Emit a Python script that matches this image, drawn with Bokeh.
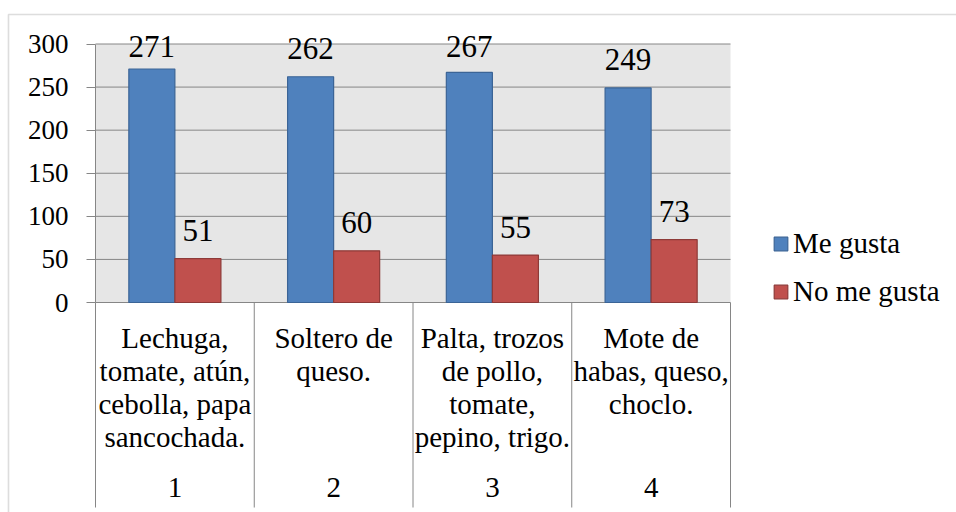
from bokeh.plotting import figure
from bokeh.models import (Range1d, FixedTicker, ColumnDataSource, Legend,
                          LegendItem, BoxAnnotation)
from bokeh.transform import dodge
from bokeh.core.properties import value
from bokeh.embed import file_html
from bokeh.resources import INLINE

# --- data -------------------------------------------------------------
categorias = ["1", "2", "3", "4"]
platos = [
    ["Lechuga,", "tomate, atún,", "cebolla, papa", "sancochada."],
    ["Soltero de", "queso."],
    ["Palta, trozos", "de pollo,", "tomate,", "pepino, trigo."],
    ["Mote de", "habas, queso,", "choclo."],
]
me_gusta = [271, 262, 267, 249]
no_me_gusta = [51, 60, 55, 73]
y_ticks = [0, 50, 100, 150, 200, 250, 300]
series = ["Me gusta", "No me gusta"]

# --- styling / layout constants ----------------------------------------
FONT = "Times New Roman"
BLUE, BLUE_EDGE = "#4F81BD", "#3B6496"
RED, RED_EDGE = "#C0504D", "#8E3A38"
GRID = "#868686"
PLOT_BG = "#E6E6E6"

W, H = 956, 512
AXIS_PX = 95              # pixel column of the value axis
PX_PER_CAT = 158.75       # width of one category slot
PX_PER_UNIT = 258.5 / 300 # vertical scale
ZERO_PX = 302             # pixel row of the zero line
BAR_W = 0.29
LINE_H = 33               # spacing of the category text lines

n = len(categorias)
x_start = 0.5 - AXIS_PX / PX_PER_CAT
x_end = 0.5 + (W - AXIS_PX) / PX_PER_CAT
y_end = ZERO_PX / PX_PER_UNIT
y_start = -(H - ZERO_PX) / PX_PER_UNIT
y_sep_bottom = -(507 - ZERO_PX) / PX_PER_UNIT

p = figure(width=W, height=H,
           x_range=Range1d(x_start, x_end), y_range=Range1d(y_start, y_end),
           output_backend="svg", toolbar_location=None,
           x_axis_location=None,
           min_border_left=0, min_border_right=0,
           min_border_top=0, min_border_bottom=0)
p.grid.visible = False
p.outline_line_color = None

# value axis, pinned to the left edge of the category area
ax = p.yaxis[0]
ax.fixed_location = 0.5
ax.ticker = FixedTicker(ticks=y_ticks)
ax.bounds = (y_ticks[0], y_ticks[-1])
ax.major_tick_out = 9
ax.major_tick_in = 0
ax.minor_tick_line_color = None
ax.major_label_standoff = 18
ax.axis_line_color = GRID
ax.major_tick_line_color = GRID
ax.major_label_text_font = FONT
ax.major_label_text_font_size = "27px"
ax.major_label_text_color = "#000000"

# outer chart border
p.add_layout(BoxAnnotation(left=8, right=W + 20, top=14, bottom=H + 20,
                           left_units="canvas", right_units="canvas",
                           top_units="canvas", bottom_units="canvas",
                           fill_color=None, fill_alpha=0,
                           line_color="#8E8E8E", line_width=1.6,
                           level="underlay"))

# grey plot area
p.add_layout(BoxAnnotation(left=0.5, right=n + 0.5, bottom=y_ticks[0],
                           top=y_ticks[-1], fill_color=PLOT_BG, fill_alpha=1,
                           line_color=None, level="underlay"))

# horizontal gridlines
p.segment(x0=[0.5] * len(y_ticks), x1=[n + 0.5] * len(y_ticks),
          y0=y_ticks, y1=y_ticks, line_color=GRID, line_width=1)

# category separators below the zero line
seps = [i + 0.5 for i in range(n + 1)]
p.segment(x0=seps, x1=seps, y0=[0] * len(seps), y1=[y_sep_bottom] * len(seps),
          line_color=GRID, line_width=1)

# bars
LABEL_CAP = (ZERO_PX - 57 - 17) / PX_PER_UNIT  # keep labels inside the chart
src = ColumnDataSource(dict(
    x=list(range(1, n + 1)),
    me=me_gusta, no=no_me_gusta,
    me_lab=[min(v, LABEL_CAP) for v in me_gusta],
    no_lab=[min(v, LABEL_CAP) for v in no_me_gusta],
    me_txt=[str(v) for v in me_gusta],
    no_txt=[str(v) for v in no_me_gusta],
))
r_me = p.vbar(x=dodge("x", -BAR_W / 2), top="me", bottom=0, width=BAR_W,
              source=src, fill_color=BLUE, line_color=BLUE_EDGE, line_width=1.2)
r_no = p.vbar(x=dodge("x", BAR_W / 2), top="no", bottom=0, width=BAR_W,
              source=src, fill_color=RED, line_color=RED_EDGE, line_width=1.2)

# value labels; the renderer sets alphabetic text ~0.37em low, so lift it
for col, lab, dx in (("me_txt", "me_lab", -BAR_W / 2), ("no_txt", "no_lab", BAR_W / 2)):
    p.text(x=dodge("x", dx), y=lab, text=col, source=src,
           text_align="center", text_baseline="alphabetic", y_offset=-28,
           text_font=value(FONT), text_font_size="31px", text_color="#000000")

# category labels (dish description + number)
cx, cy, ctext, coff = [], [], [], []
for i, (num, lines) in enumerate(zip(categorias, platos), start=1):
    for j, line in enumerate(lines):
        cx.append(i); cy.append(0); ctext.append(line); coff.append(35 + LINE_H * j)
    cx.append(i); cy.append(0); ctext.append(num); coff.append(185)
p.text(x=cx, y=cy, text=ctext, y_offset=coff,
       text_align="center", text_baseline="alphabetic",
       text_font=value(FONT), text_font_size="29px", text_color="#000000")

# legend
legend = Legend(items=[LegendItem(label=series[0], renderers=[r_me]),
                       LegendItem(label=series[1], renderers=[r_no])],
                location=(772, 204), orientation="vertical",
                glyph_width=17, glyph_height=17, label_standoff=4,
                spacing=15, padding=0, margin=0,
                border_line_color=None, background_fill_alpha=0,
                label_text_font=FONT, label_text_font_size="29px",
                label_text_color="#000000")
p.add_layout(legend)

open("out.html", "w").write(file_html(p, INLINE))
